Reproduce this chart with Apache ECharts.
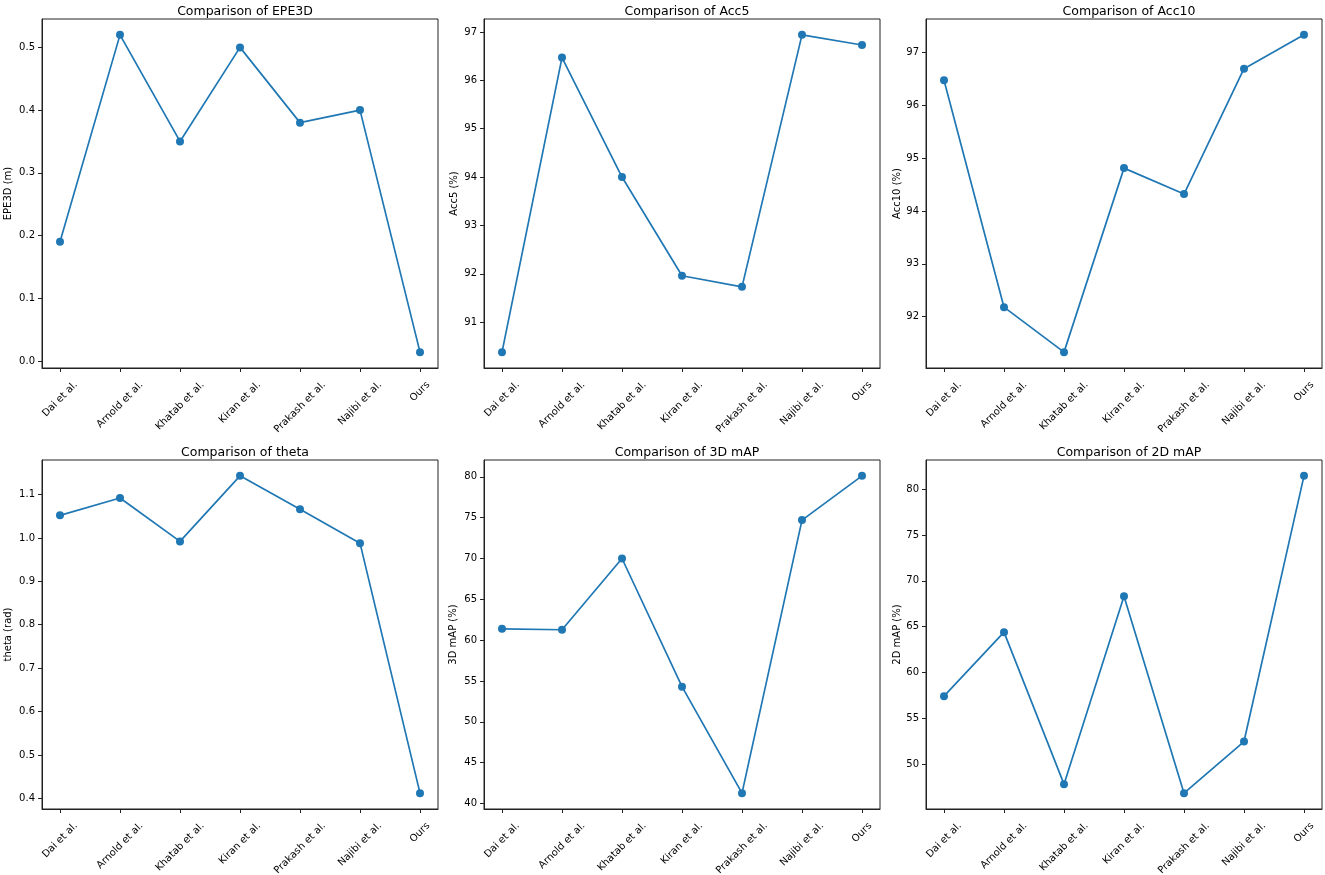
<!DOCTYPE html>
<html>
<head>
<meta charset="utf-8">
<script src="https://cdn.jsdelivr.net/npm/echarts@6/dist/echarts.min.js"></script>
<style>
html,body{margin:0;padding:0;background:#fff;}
#chart{width:1325px;height:875px;}
</style>
</head>
<body>
<div id="chart"></div>
<script>
// ---- data ----
var categories = ['Dai et al.', 'Arnold et al.', 'Khatab et al.', 'Kiran et al.', 'Prakash et al.', 'Najibi et al.', 'Ours'];
var epe3d = [0.19, 0.52, 0.35, 0.50, 0.38, 0.40, 0.014];
var acc5 = [90.38, 96.47, 94.00, 91.96, 91.73, 96.94, 96.73];
var acc10 = [96.47, 92.18, 91.33, 94.81, 94.32, 96.69, 97.33];
var theta = [1.052, 1.092, 0.992, 1.143, 1.066, 0.988, 0.412];
var map3d = [61.39, 61.27, 70.00, 54.30, 41.26, 74.70, 80.12];
var map2d = [57.42, 64.40, 47.82, 68.33, 46.84, 52.47, 81.45];

var titles = ['Comparison of EPE3D', 'Comparison of Acc5', 'Comparison of Acc10', 'Comparison of theta', 'Comparison of 3D mAP', 'Comparison of 2D mAP'];
var yNames = ['EPE3D (m)', 'Acc5 (%)', 'Acc10 (%)', 'theta (rad)', '3D mAP (%)', '2D mAP (%)'];

var ticksEpe3d = ['0.0', '0.1', '0.2', '0.3', '0.4', '0.5'];
var ticksAcc5 = ['91', '92', '93', '94', '95', '96', '97'];
var ticksAcc10 = ['92', '93', '94', '95', '96', '97'];
var ticksTheta = ['0.4', '0.5', '0.6', '0.7', '0.8', '0.9', '1.0', '1.1'];
var ticksMap3d = ['40', '45', '50', '55', '60', '65', '70', '75', '80'];
var ticksMap2d = ['50', '55', '60', '65', '70', '75', '80'];

// ---- layout / style ----
var seriesList = [epe3d, acc5, acc10, theta, map3d, map2d];
var tickList = [ticksEpe3d, ticksAcc5, ticksAcc10, ticksTheta, ticksMap3d, ticksMap2d];
var gridLefts = [42, 484, 926];
var gridWidth = 396;
var gridTops = [19, 460];
var gridHeight = 349;
var nameGaps = [29, 25, 24, 29, 26, 24];
var FONT = 'DejaVu Sans';
var LINE = '#1f77b4';
var TICKFS = 10;

// measure text widths for matplotlib-like centred rotated labels
var ctx = document.createElement('canvas').getContext('2d');
ctx.font = TICKFS + 'px "' + FONT + '"';
var lineH = 12;
var halfs = categories.map(function (c) { return (ctx.measureText(c).width + lineH) / 2; });
var K = Math.min.apply(null, halfs) - 0.5;
var rich = {};
halfs.forEach(function (h, i) {
  var p = h - K;
  rich['l' + i] = { fontSize: TICKFS, fontFamily: FONT, color: '#000', lineHeight: lineH, padding: [p, p, 0, 0] };
});
var labelMargin = 11 + K * Math.SQRT1_2;

var option = { animation: false, backgroundColor: '#fff', title: [], grid: [], xAxis: [], yAxis: [], series: [] };

for (var k = 0; k < 6; k++) {
  var row = Math.floor(k / 3), col = k % 3;
  var data = seriesList[k];
  var mn = Math.min.apply(null, data), mx = Math.max.apply(null, data);
  var pad = (mx - mn) * 0.05;
  var ticks = tickList[k];
  var tickVals = ticks.map(function (t) { return parseFloat(t); });
  option.grid.push({
    left: gridLefts[col], top: gridTops[row], width: gridWidth, height: gridHeight,
    containLabel: false, outerBoundsMode: 'none',
    show: true, borderColor: '#222', borderWidth: 1, backgroundColor: 'transparent'
  });
  option.title.push({
    text: titles[k], left: gridLefts[col] + gridWidth / 2, top: gridTops[row] - 19,
    textAlign: 'center',
    textStyle: { fontFamily: FONT, fontSize: 12.5, fontWeight: 'normal', color: '#000' }
  });
  option.xAxis.push({
    type: 'value', gridIndex: k, min: -0.3, max: 6.3,
    splitLine: { show: false },
    axisLine: { show: true, onZero: false, lineStyle: { color: '#222', width: 1 } },
    axisTick: { show: true, length: 4, lineStyle: { color: '#222' }, customValues: [0, 1, 2, 3, 4, 5, 6] },
    axisLabel: {
      customValues: [0, 1, 2, 3, 4, 5, 6],
      showMinLabel: true, showMaxLabel: true, hideOverlap: false,
      rotate: 45, align: 'center', verticalAlign: 'middle', margin: labelMargin,
      fontFamily: FONT, fontSize: TICKFS, color: '#000',
      rich: rich,
      formatter: function (v) { var i = Math.round(v); return '{l' + i + '|' + categories[i] + '}'; }
    }
  });
  (function (ticks, tickVals) {
    option.yAxis.push({
      type: 'value', gridIndex: k, min: mn - pad, max: mx + pad,
      name: yNames[k], nameLocation: 'middle', nameGap: nameGaps[k],
      nameTextStyle: { fontFamily: FONT, fontSize: TICKFS, color: '#000' },
      splitLine: { show: false },
      axisLine: { show: true, onZero: false, lineStyle: { color: '#222', width: 1 } },
      axisTick: { show: true, length: 4, lineStyle: { color: '#222' }, customValues: tickVals },
      axisLabel: {
        customValues: tickVals, margin: 7,
        showMinLabel: true, showMaxLabel: true,
        fontFamily: FONT, fontSize: TICKFS, color: '#000',
        formatter: function (v) {
          for (var j = 0; j < tickVals.length; j++) if (Math.abs(tickVals[j] - v) < 1e-9) return ticks[j];
          return '';
        }
      }
    });
  })(ticks, tickVals);
  option.series.push({
    type: 'line', xAxisIndex: k, yAxisIndex: k,
    data: data.map(function (v, i) { return [i, v]; }),
    symbol: 'circle', symbolSize: 8,
    lineStyle: { color: LINE, width: 1.7 },
    itemStyle: { color: LINE },
    emphasis: { disabled: true }
  });
}

var chart = echarts.init(document.getElementById('chart'), null, { renderer: 'canvas' });
chart.setOption(option);
</script>
</body>
</html>
